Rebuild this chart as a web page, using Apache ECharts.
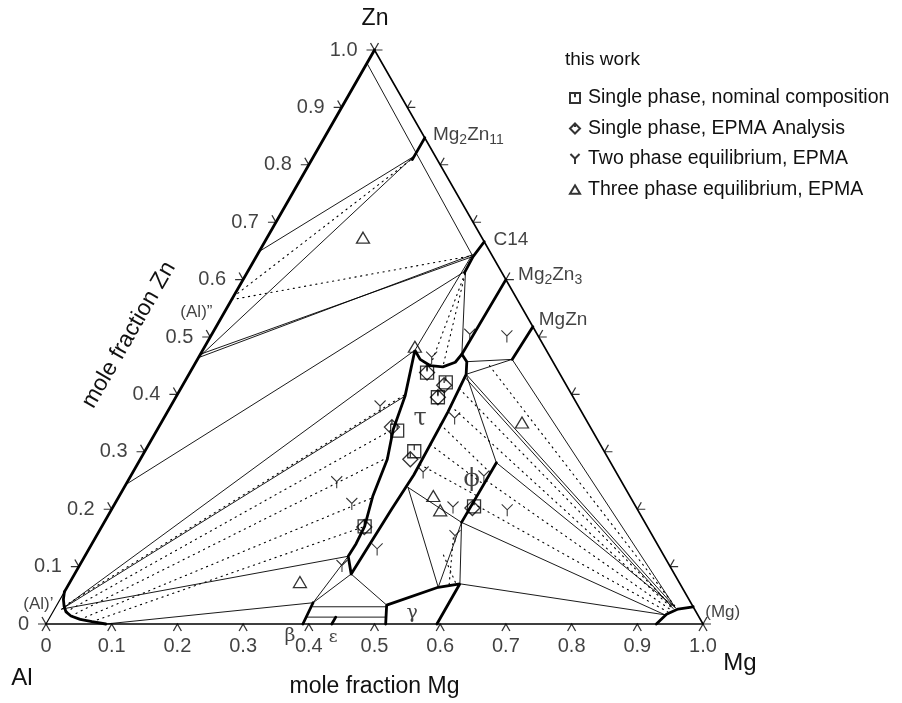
<!DOCTYPE html>
<html><head><meta charset="utf-8">
<script src="https://cdn.jsdelivr.net/npm/echarts@6/dist/echarts.min.js"></script>
<style>html,body{margin:0;padding:0;background:#fff}#c{width:902px;height:703px}</style>
</head><body><div id="c"></div>
<script>
// All compositions are ternary mole fractions [x_Mg, x_Zn] (x_Al = 1 - x_Mg - x_Zn)
const tickValues = [0, 0.1, 0.2, 0.3, 0.4, 0.5, 0.6, 0.7, 0.8, 0.9, 1.0];
const tickLabels = ['0', '0.1', '0.2', '0.3', '0.4', '0.5', '0.6', '0.7', '0.8', '0.9', '1.0'];

const frameBottom = [[0, 0], [1, 0]];
const frameRight = [[1, 0], [0, 1]];
const frameLeft = [[0, 0], [0, 1]];

const thickBoundaries = [
  [[0, 0.056], [0, 1]],
  [[0, 0.056], [0.005, 0.043], [0.012, 0.031], [0.020, 0.021], [0.031, 0.014], [0.048, 0.008], [0.068, 0.004], [0.091, 0]],
  [[0.153, 0.847], [0.153, 0.809]],
  [[0.334, 0.666], [0.330, 0.640], [0.331, 0.612]],
  [[0.4, 0.6], [0.398, 0.470]],
  [[0.482, 0.518], [0.479, 0.461]],
  [[0.421, 0.087], [0.401, 0.118], [0.402, 0.140], [0.400, 0.170], [0.386, 0.223], [0.376, 0.287], [0.359, 0.339], [0.348, 0.397], [0.323, 0.477],
   [0.339, 0.461], [0.360, 0.450], [0.380, 0.448], [0.395, 0.456], [0.398, 0.470], [0.412, 0.457],
   [0.422, 0.435], [0.427, 0.370], [0.430, 0.260], [0.426, 0.200], [0.421, 0.087]],
  [[0.391, 0], [0.388, 0.037]],
  [[0.435, 0], [0.435, 0.012]],
  [[0.517, 0], [0.502, 0.033], [0.565, 0.064], [0.595, 0.070], [0.595, 0]],
  [[0.545, 0.281], [0.544, 0.177]],
  [[0.929, 0], [0.936, 0.017], [0.949, 0.026], [0.970, 0.030]]
];

const thinLines = [
  [[0, 0.977], [0.327, 0.643]],
  [[0.152, 0.814], [0, 0.649]],
  [[0.152, 0.814], [0, 0.464]],
  [[0, 0.464], [0.327, 0.643]],
  [[0, 0.470], [0.329, 0.640]],
  [[0, 0.243], [0.331, 0.615]],
  [[0.011, 0.026], [0.323, 0.477]],
  [[0.011, 0.026], [0.348, 0.397]],
  [[0.091, 0], [0.388, 0.037]],
  [[0.011, 0.026], [0.401, 0.118]],
  [[0.401, 0.118], [0.388, 0.037]],
  [[0.421, 0.087], [0.388, 0.037]],
  [[0.421, 0.087], [0.502, 0.033]],
  [[0.391, 0.030], [0.504, 0.030]],
  [[0.390, 0.012], [0.512, 0.012]],
  [[0.432, 0.238], [0.565, 0.064]],
  [[0.565, 0.064], [0.544, 0.177]],
  [[0.544, 0.177], [0.595, 0.070]],
  [[0.544, 0.177], [0.432, 0.238]],
  [[0.422, 0.435], [0.545, 0.281]],
  [[0.422, 0.435], [0.943, 0.029]],
  [[0.425, 0.428], [0.941, 0.027]],
  [[0.422, 0.435], [0.479, 0.461]],
  [[0.412, 0.457], [0.479, 0.461]],
  [[0.479, 0.461], [0.943, 0.029]],
  [[0.545, 0.281], [0.943, 0.029]],
  [[0.544, 0.177], [0.934, 0.016]],
  [[0.595, 0.070], [0.934, 0.016]],
  [[0.327, 0.643], [0.323, 0.477]],
  [[0.331, 0.615], [0.398, 0.470]]
];

const dottedLines = [
  [[0, 0.570], [0.153, 0.812]],
  [[0, 0.565], [0.325, 0.641]],
  [[0.012, 0.031], [0.347, 0.400]],
  [[0.020, 0.021], [0.359, 0.340]],
  [[0.031, 0.014], [0.375, 0.290]],
  [[0.048, 0.008], [0.387, 0.220]],
  [[0.068, 0.004], [0.400, 0.170]],
  [[0.426, 0.348], [0.545, 0.263]],
  [[0.428, 0.313], [0.545, 0.243]],
  [[0.430, 0.278], [0.545, 0.223]],
  [[0.424, 0.410], [0.941, 0.028]],
  [[0.426, 0.380], [0.940, 0.027]],
  [[0.545, 0.250], [0.938, 0.025]],
  [[0.545, 0.210], [0.936, 0.021]],
  [[0.450, 0.450], [0.943, 0.030]],
  [[0.329, 0.630], [0.360, 0.450]],
  [[0.330, 0.620], [0.380, 0.448]],
  [[0.545, 0.150], [0.580, 0.067]],
  [[0.545, 0.120], [0.590, 0.069]]
];

const singlePhaseNominal = [[0.361, 0.438], [0.398, 0.421], [0.399, 0.395], [0.366, 0.337], [0.410, 0.301], [0.400, 0.170], [0.549, 0.205]];
const singlePhaseEPMA = [[0.361, 0.438], [0.398, 0.416], [0.399, 0.395], [0.355, 0.343], [0.411, 0.287], [0.400, 0.169], [0.548, 0.202]];
const twoPhaseEPMA = [[0.355, 0.464], [0.393, 0.504], [0.451, 0.501], [0.443, 0.358], [0.319, 0.379], [0.319, 0.247], [0.361, 0.209],
  [0.400, 0.101], [0.439, 0.130], [0.442, 0.264], [0.518, 0.203], [0.603, 0.198], [0.538, 0.257], [0.546, 0.153]];
const threePhaseEPMA = [[0.146, 0.673], [0.320, 0.483], [0.549, 0.351], [0.478, 0.223], [0.501, 0.198], [0.350, 0.073]];

const compoundLabels = ['{a|Mg}{s|2}{a|Zn}{s|11}', '{a|C14}', '{a|Mg}{s|2}{a|Zn}{s|3}', '{a|MgZn}', '{b|(Mg)}', '{b|(Al)”}', '{b|(Al)’}'];
const compoundLabelAt = [[0.163, 0.852], [0.346, 0.670], [0.414, 0.609], [0.485, 0.530], [0.993, 0.021], [-0.067, 0.543], [-0.052, 0.035]];
const greekLabels = ['τ', 'ϕ', 'γ', 'β', 'ε'];
const greekLabelAt = [[0.391, 0.357], [0.522, 0.252], [0.548, 0.019], [0.382, -0.021], [0.449, -0.024]];
const greekLabelSize = [24, 24, 19, 19, 17];

const toXY = p => [p[0] + p[1] / 2, p[1]];

const SQ = 'path://M0,0H12V12H0ZM6,0V5';
const DIA = 'path://M7,0L14,7L7,14L0,7ZM7,0V5';
const YS = 'path://M0,0L5,5L10,0M5,5L5,11';
const TRI = 'path://M6,0L12,10L0,10Z';
const FONT = 'Liberation Sans, Arial, sans-serif';

const series = [];
const mk = (pts, w, type, z) => ({
  type: 'line', data: pts.map(toXY), symbol: 'none', silent: true, animation: false, clip: false, z: z || 2,
  lineStyle: { color: '#000', width: w, type: type || 'solid', cap: 'round' }
});
series.push(mk(frameBottom, 1.3));
series.push(mk(frameRight, 1.6));
series.push(mk(frameLeft, 1.2));
thinLines.forEach(l => series.push(mk(l, 0.9)));
dottedLines.forEach(l => series.push(mk(l, 1.1, [1.2, 4.5])));
thickBoundaries.forEach(l => series.push(mk(l, 2.8, 'solid', 3)));

// axis tick marks
const tickSeries = (pts, path, size, off) => ({
  type: 'scatter', data: pts, symbol: path, symbolSize: size, symbolOffset: off, silent: true, animation: false, clip: false,
  itemStyle: { color: 'rgba(0,0,0,0)', borderColor: '#000', borderWidth: 1.2 }, z: 4
});
series.push(tickSeries(tickValues.map(v => toXY([v, 0])), 'path://M0,7L4,0L8,7', [8, 7], [0, 3.5]));
series.push(tickSeries(tickValues.map(v => toXY([0, v])), 'path://M0,7L8,7M4,0L8,7', [8, 7], [-4, -3.5]));
series.push(tickSeries(tickValues.map(v => toXY([1 - v, v])), 'path://M8,7L0,7M4,0L0,7', [8, 7], [4, -3.5]));

const labelFont = { fontFamily: FONT, color: '#111' };
series.push({
  type: 'scatter', data: tickValues.map(v => toXY([v, 0])), symbolSize: 0, silent: true, animation: false, clip: false,
  label: { show: true, position: 'bottom', distance: 12, fontSize: 20, ...labelFont, formatter: p => tickLabels[p.dataIndex] }
});
series.push({
  type: 'scatter', data: tickValues.map(v => toXY([0, v])), symbolSize: 0, silent: true, animation: false, clip: false,
  label: { show: true, position: 'left', distance: 17, fontSize: 20, ...labelFont, formatter: p => tickLabels[p.dataIndex] }
});
series.push({
  type: 'scatter', data: compoundLabelAt.map(toXY), symbolSize: 0, silent: true, animation: false, clip: false,
  label: {
    show: true, position: [0, 0], align: 'left', verticalAlign: 'middle', ...labelFont,
    formatter: p => compoundLabels[p.dataIndex],
    rich: {
      a: { fontSize: 19, fontFamily: FONT, color: '#111' },
      s: { fontSize: 14, fontFamily: FONT, color: '#111', padding: [11, 0, 0, 0] },
      b: { fontSize: 17, fontFamily: FONT, color: '#111' }
    }
  }
});
series.push({
  type: 'scatter', data: greekLabelAt.map(toXY), symbolSize: 0, silent: true, animation: false, clip: false,
  label: {
    show: true, position: [0, 0], align: 'center', verticalAlign: 'middle', fontFamily: 'DejaVu Serif, Liberation Serif, serif', color: '#111',
    formatter: p => greekLabels[p.dataIndex]
  },
  labelLayout: p => ({ fontSize: greekLabelSize[p.dataIndex] })
});

const markerStyle = { color: 'rgba(0,0,0,0)', borderColor: '#000', borderWidth: 1.3 };
series.push({ type: 'scatter', name: 'Single phase, nominal composition', data: singlePhaseNominal.map(toXY), symbol: SQ, symbolSize: 13, itemStyle: markerStyle, clip: false, animation: false, z: 6 });
series.push({ type: 'scatter', name: 'Single phase, EPMA Analysis', data: singlePhaseEPMA.map(toXY), symbol: DIA, symbolSize: 15, itemStyle: markerStyle, clip: false, animation: false, z: 6 });
series.push({ type: 'scatter', name: 'Two phase equilibrium, EPMA', data: twoPhaseEPMA.map(toXY), symbol: YS, symbolSize: [11, 12], itemStyle: { ...markerStyle, borderWidth: 1.1 }, clip: false, animation: false, z: 6 });
series.push({ type: 'scatter', name: 'Three phase equilibrium, EPMA', data: threePhaseEPMA.map(toXY), symbol: TRI, symbolSize: [13, 11], itemStyle: markerStyle, clip: false, animation: false, z: 6 });

const chart = echarts.init(document.getElementById('c'), null, { renderer: 'canvas' });
chart.setOption({
  backgroundColor: '#fff',
  animation: false,
  grid: { left: 46, right: 199, top: 50, bottom: 78 },
  xAxis: {
    type: 'value', min: 0, max: 1, axisLine: { show: false }, axisTick: { show: false }, axisLabel: { show: false }, splitLine: { show: false },
    name: 'mole fraction Mg', nameLocation: 'middle', nameGap: 51,
    nameTextStyle: { fontSize: 23, fontFamily: FONT, color: '#111' }
  },
  yAxis: { type: 'value', min: 0, max: 1, show: false },
  legend: {
    orient: 'vertical', left: 564, top: 83, itemWidth: 10, itemHeight: 10, itemGap: 10.5,
    textStyle: { fontSize: 19.5, fontFamily: FONT, color: '#111', padding: [0, 0, 0, 3] },
    data: [
      { name: 'Single phase, nominal composition', icon: SQ },
      { name: 'Single phase, EPMA Analysis', icon: DIA },
      { name: 'Two phase equilibrium, EPMA', icon: YS },
      { name: 'Three phase equilibrium, EPMA', icon: TRI }
    ]
  },
  graphic: [
    { type: 'text', left: 565, top: 50, style: { text: 'this work', fontSize: 19, fontFamily: FONT, fill: '#111' } },
    { type: 'text', x: 375, y: 19, style: { text: 'Zn', fontSize: 23, fontFamily: FONT, fill: '#111', align: 'center', verticalAlign: 'middle' } },
    { type: 'text', x: 22, y: 678, style: { text: 'Al', fontSize: 24, fontFamily: FONT, fill: '#111', align: 'center', verticalAlign: 'middle' } },
    { type: 'text', x: 740, y: 663, style: { text: 'Mg', fontSize: 24, fontFamily: FONT, fill: '#111', align: 'center', verticalAlign: 'middle' } },
    { type: 'text', x: 129, y: 335, rotation: Math.PI / 3, style: { text: 'mole fraction Zn', fontSize: 23, fontFamily: FONT, fill: '#111', align: 'center', verticalAlign: 'middle' } }
  ],
  series
});
</script></body></html>
